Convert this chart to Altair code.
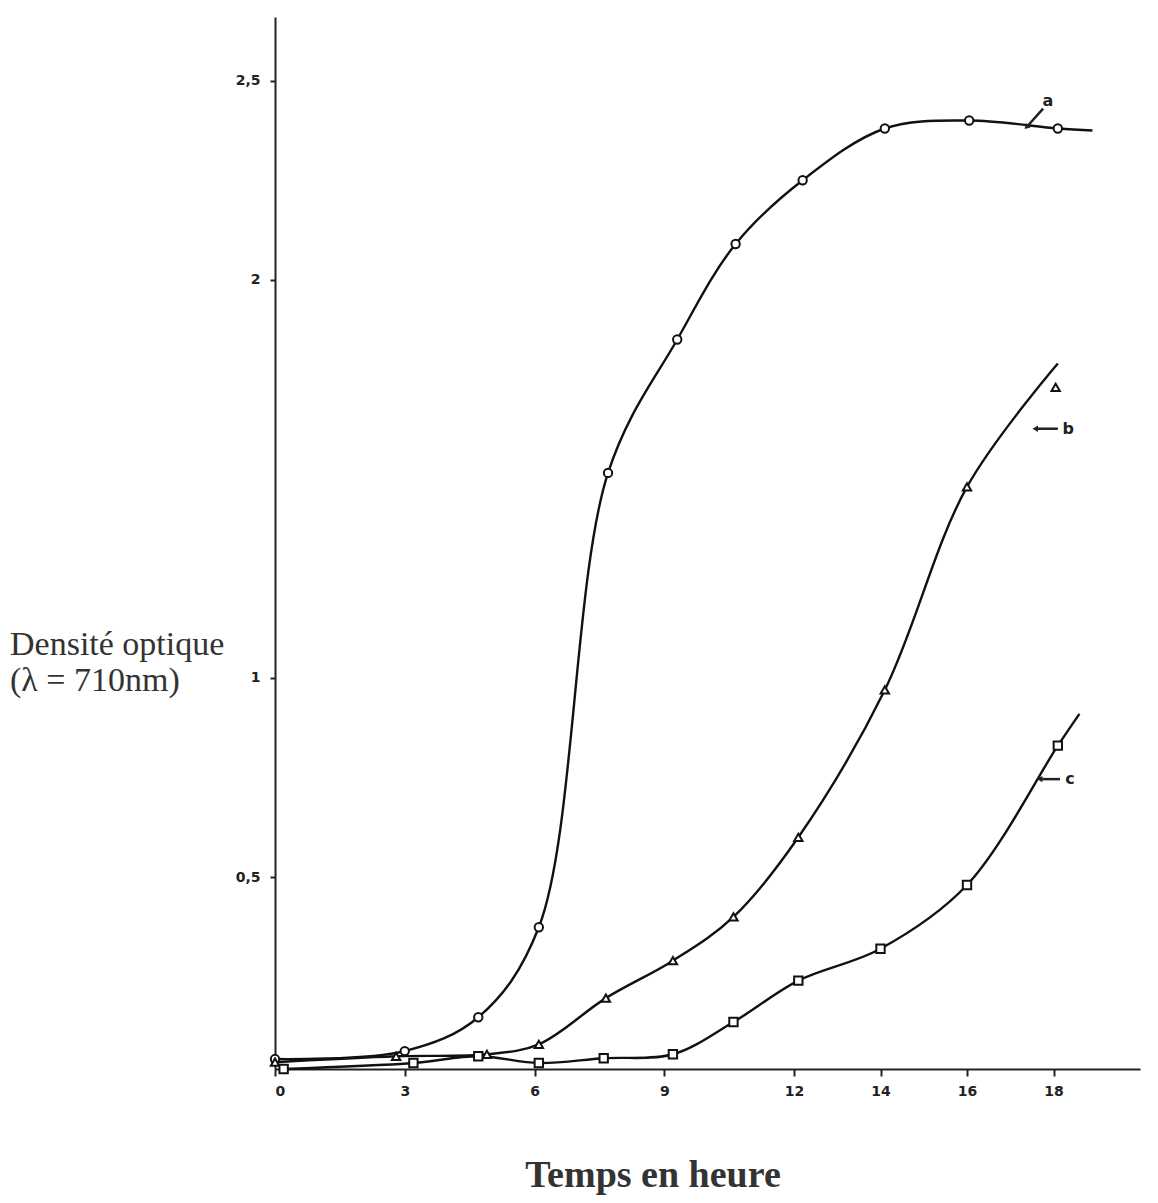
import altair as alt
import pandas as pd

# Measured points (time in hours, optical density)
a_t = [0.0, 3.0, 4.7, 6.1, 7.7, 9.3, 10.65, 12.2, 14.1, 16.05, 18.1]
a_v = [0.043, 0.063, 0.148, 0.374, 1.515, 1.85, 2.09, 2.25, 2.38, 2.40, 2.38]

b_t = [0.0, 2.8, 4.9, 6.1, 7.65, 9.2, 10.6, 12.1, 14.1, 16.0, 18.05]
b_v = [0.035, 0.05, 0.055, 0.08, 0.196, 0.29, 0.40, 0.60, 0.97, 1.48, 1.73]

c_t = [0.2, 3.2, 4.7, 6.1, 7.6, 9.2, 10.6, 12.1, 14.0, 16.0, 18.1]
c_v = [0.018, 0.033, 0.05, 0.033, 0.045, 0.055, 0.136, 0.24, 0.32, 0.48, 0.83]

# Hand-drawn curves
a_line_t = [0.0, 3.0, 4.7, 6.1, 7.7, 9.3, 10.65, 12.2, 14.1, 16.05, 18.1, 18.9]
a_line_v = [0.043, 0.063, 0.148, 0.374, 1.515, 1.85, 2.09, 2.25, 2.38, 2.40, 2.38, 2.375]
b_line_t = [0.0, 2.8, 4.9, 6.1, 7.65, 9.2, 10.6, 12.1, 14.1, 16.0, 18.1]
b_line_v = [0.035, 0.05, 0.055, 0.08, 0.196, 0.29, 0.40, 0.60, 0.97, 1.48, 1.79]
c_line_t = [0.2, 3.2, 4.7, 6.1, 7.6, 9.2, 10.6, 12.1, 14.0, 16.0, 18.1, 18.6]
c_line_v = [0.018, 0.033, 0.05, 0.033, 0.045, 0.055, 0.136, 0.24, 0.32, 0.48, 0.83, 0.91]

x_ticks = [0, 3, 6, 9, 12, 14, 16, 18]
y_ticks = [0.5, 1, 2, 2.5]

series_names = ["a", "b", "c"]
shapes = ["circle", "triangle-up", "square"]

rows = []
for name, ts, vs in [("a", a_t, a_v), ("b", b_t, b_v), ("c", c_t, c_v)]:
    for t, v in zip(ts, vs):
        rows.append({"serie": name, "t": t, "v": v})
lines = []
for name, ts, vs in [("a", a_line_t, a_line_v), ("b", b_line_t, b_line_v), ("c", c_line_t, c_line_v)]:
    for i, (t, v) in enumerate(zip(ts, vs)):
        lines.append({"serie": name, "t": t, "v": v, "o": i})
pts = pd.DataFrame(rows)
lns = pd.DataFrame(lines)

# annotation labels and arrows
lab_df = pd.DataFrame({"t": [17.87, 18.34, 18.38], "v": [2.45, 1.626, 0.746], "txt": ["a", "b", "c"]})
arr_df = pd.DataFrame({"t": [17.76, 18.1, 18.15], "v": [2.43, 1.626, 0.746],
                       "t2": [17.39, 17.6, 17.7], "v2": [2.385, 1.626, 0.746],
                       "ang": [225, 270, 270]})

xs = alt.Scale(domain=[0, 20], nice=False, zero=False)
ys = alt.Scale(domain=[0.018, 2.66], nice=False, zero=False)

X = alt.X("t:Q", scale=xs, axis=alt.Axis(values=x_ticks, title=None, grid=False, labelFont="DejaVu Sans",
                                         labelFontWeight="bold", labelFontSize=14, labelColor="#222",
                                         domainColor="#222", domainWidth=2, tickColor="#222", tickSize=7,
                                         tickWidth=2, labelPadding=8))
Y = alt.Y("v:Q", scale=ys, axis=alt.Axis(values=y_ticks, title=None, grid=False, labelFont="DejaVu Sans",
                                         labelFontWeight="bold", labelFontSize=14, labelColor="#222",
                                         domainColor="#222", domainWidth=2, tickColor="#222", tickSize=5,
                                         tickWidth=2, labelPadding=10,
                                         labelExpr="replace(format(datum.value, '.2~f'), '.', ',')"))

line = alt.Chart(lns).mark_line(interpolate="catmull-rom", color="#111", strokeWidth=2.4).encode(
    x=X, y=Y, detail="serie:N", order="o:Q")

points = alt.Chart(pts).mark_point(filled=True, fill="white", stroke="#111", strokeWidth=2, size=70, opacity=1).encode(
    x=alt.X("t:Q", scale=xs), y=alt.Y("v:Q", scale=ys),
    shape=alt.Shape("serie:N", scale=alt.Scale(domain=series_names, range=shapes), legend=None))

labels = alt.Chart(lab_df).mark_text(font="DejaVu Sans", fontSize=16, fontWeight="bold", color="#222").encode(
    x=alt.X("t:Q", scale=xs), y=alt.Y("v:Q", scale=ys), text="txt:N")

arrows = alt.Chart(arr_df).mark_rule(color="#222", strokeWidth=2.5).encode(
    x=alt.X("t:Q", scale=xs), y=alt.Y("v:Q", scale=ys), x2="t2:Q", y2="v2:Q")

heads = alt.Chart(arr_df).mark_point(shape="triangle", filled=True, color="#222", size=40, opacity=1).encode(
    x=alt.X("t2:Q", scale=xs), y=alt.Y("v2:Q", scale=ys), angle=alt.Angle("ang:Q", scale=None))

ytitle = alt.Chart(pd.DataFrame({"s": ["Densité optique", "(λ = 710nm)"], "yy": [638, 674]})).mark_text(
    font="Liberation Serif", fontSize=34, align="left", baseline="alphabetic", color="#333").encode(
    x=alt.value(-265), y=alt.Y("yy:Q", scale=None), text="s:N")

xtitle = alt.Chart(pd.DataFrame({"s": ["Temps en heure"]})).mark_text(
    font="Liberation Serif", fontSize=38, fontWeight="bold", align="center", baseline="alphabetic",
    color="#333").encode(x=alt.value(378), y=alt.value(1170), text="s:N")

chart = alt.layer(line, points, arrows, heads, labels, ytitle, xtitle).properties(
    width=865, height=1052,
    autosize=alt.AutoSizeParams(type="none"),
    padding={"left": 267, "top": 9, "right": 10, "bottom": 160},
    background="white",
).configure_view(stroke=None)

chart.save("out.html", embed_options={"renderer": "svg", "actions": False})
